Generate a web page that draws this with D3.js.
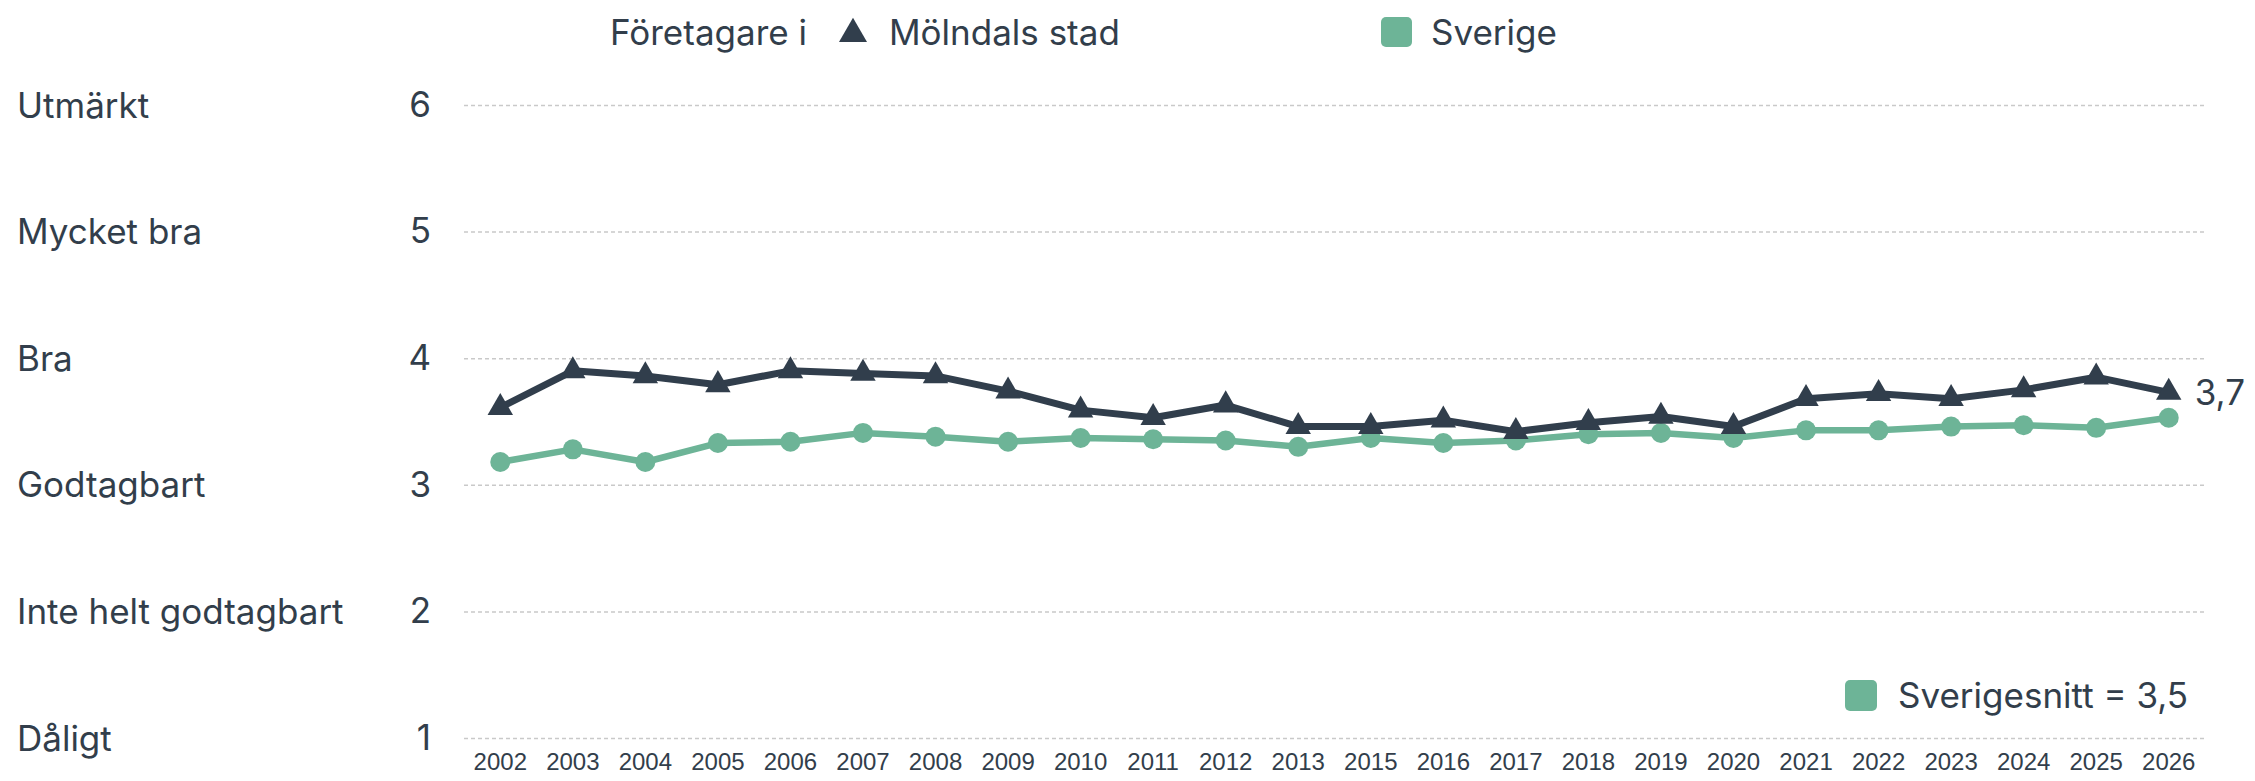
<html>
<head>
<meta charset="utf-8">
<title>Företagare i Mölndals stad</title>
<script src="https://d3js.org/d3.v7.min.js"></script>
<style>
  body { margin: 0; background: #fff; }
  text { fill: #323e4b; }
  .lbl { font-family: Inter, Lato, sans-serif; }
  .narrow { font-family: "Liberation Sans Narrow", "Arial Narrow", sans-serif; }
  .grid line { stroke: #c9c9c9; stroke-width: 1.5; stroke-dasharray: 4,3; }
  .grid .domain { display: none; }
</style>
</head>
<body>
<div id="chart"></div>
<script>
// data
var years = ["2002","2003","2004","2005","2006","2007","2008","2009","2010","2011","2012","2013",
             "2015","2016","2017","2018","2019","2020","2021","2022","2023","2024","2025","2026"];
var molndal = [3.61,3.90,3.86,3.79,3.90,3.88,3.86,3.74,3.59,3.53,3.63,3.46,
               3.46,3.51,3.42,3.49,3.54,3.46,3.68,3.72,3.68,3.75,3.85,3.73];
var sverige = [3.18,3.28,3.18,3.33,3.34,3.41,3.38,3.34,3.37,3.36,3.35,3.30,
               3.37,3.33,3.35,3.40,3.41,3.37,3.43,3.43,3.46,3.47,3.45,3.53];
var gradeValues = [1,2,3,4,5,6];
var gradeLabels = ["Dåligt","Inte helt godtagbart","Godtagbart","Bra","Mycket bra","Utmärkt"];
var lastLabel = "3,7";
var avgLabel = "Sverigesnitt = 3,5";

var width = 2255, height = 781;
var dark = "#313e4c", green = "#6db497";
var fs = "35px";

var svg = d3.select("#chart").append("svg")
    .attr("width", width).attr("height", height);

var x = d3.scaleBand().domain(years).range([464, 2205]);
var y = d3.scaleLinear().domain([1, 6]).range([738, 105]);
var cx = function(i){ return x(years[i]) + x.bandwidth()/2; };

// grid + y numbers
var gy = svg.append("g").attr("class","grid")
    .attr("transform","translate(464,0)")
    .call(d3.axisLeft(y).tickValues(gradeValues).tickSize(-(2205-464)).tickPadding(33).tickFormat(d3.format("d")));
gy.selectAll("text").attr("class","lbl").style("font-size", fs).style("fill","#323e4b");

// grade names on the far left
svg.append("g").selectAll("text")
    .data(gradeValues).enter().append("text")
    .attr("class","lbl")
    .attr("x", 17)
    .attr("y", function(d){ return y(d); })
    .attr("dy", "0.36em")
    .style("font-size", fs)
    .text(function(d,i){ return gradeLabels[i]; });

// x axis years
var gx = svg.append("g")
    .attr("transform","translate(0,738)")
    .call(d3.axisBottom(x).tickSize(0).tickPadding(15));
gx.select(".domain").remove();
gx.selectAll("text").attr("class","narrow").style("font-size","24px").style("fill","#323e4b");

var line = d3.line()
    .x(function(d,i){ return cx(i); })
    .y(function(d){ return y(d); });

// Sverige
svg.append("path").datum(sverige)
    .attr("d", line).attr("fill","none")
    .attr("stroke", green).attr("stroke-width", 6.5).attr("stroke-linejoin","round");
svg.append("g").selectAll("circle")
    .data(sverige).enter().append("circle")
    .attr("cx", function(d,i){ return cx(i); })
    .attr("cy", function(d){ return y(d); })
    .attr("r", 10)
    .attr("fill", green);

// Mölndal
svg.append("path").datum(molndal)
    .attr("d", line).attr("fill","none")
    .attr("stroke", dark).attr("stroke-width", 7).attr("stroke-linejoin","round");
var tri = d3.symbol().type(d3.symbolTriangle).size(280);
svg.append("g").selectAll("path")
    .data(molndal).enter().append("path")
    .attr("d", tri)
    .attr("transform", function(d,i){ return "translate(" + cx(i) + "," + y(d) + ")"; })
    .attr("fill", dark);

svg.append("text").attr("class","lbl")
    .attr("x", cx(years.length-1) + 26)
    .attr("y", y(molndal[molndal.length-1]))
    .attr("dy","0.36em")
    .style("font-size", fs)
    .text(lastLabel);

// top legend
var lg = svg.append("g");
lg.append("text").attr("class","lbl").attr("x",610).attr("y",32).attr("dy","0.36em")
    .style("font-size", fs).text("Företagare i");
lg.append("path").attr("d", d3.symbol().type(d3.symbolTriangle).size(340))
    .attr("transform","translate(853,34)").attr("fill", dark);
lg.append("text").attr("class","lbl").attr("x",889).attr("y",32).attr("dy","0.36em")
    .style("font-size", fs).text("Mölndals stad");
lg.append("rect").attr("x",1381).attr("y",17).attr("width",31).attr("height",30).attr("rx",5)
    .attr("fill", green);
lg.append("text").attr("class","lbl").attr("x",1431).attr("y",32).attr("dy","0.36em")
    .style("font-size", fs).text("Sverige");

// average legend
svg.append("rect").attr("x",1845).attr("y",680).attr("width",32).attr("height",31).attr("rx",5)
    .attr("fill", green);
svg.append("text").attr("class","lbl").attr("x",1898).attr("y",695).attr("dy","0.36em")
    .style("font-size", fs).text(avgLabel);
</script>
</body>
</html>
